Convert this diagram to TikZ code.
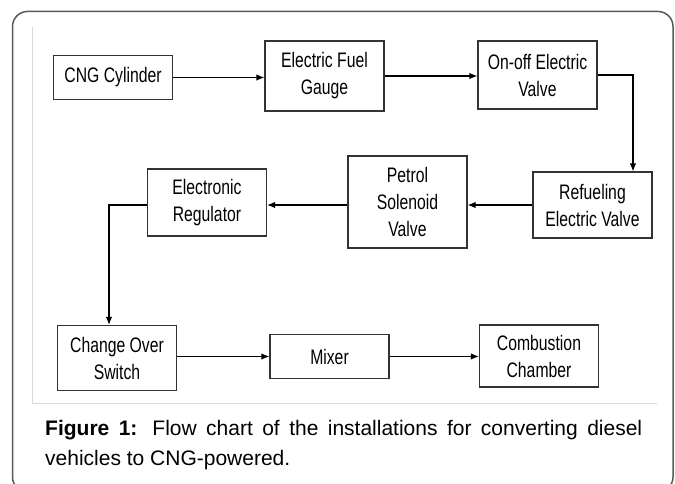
\documentclass[tikz,border=0pt]{standalone}
\usepackage{fontspec}
\setmainfont{Liberation Sans}
\newfontfamily\narrowfont[FakeStretch=0.75]{Liberation Sans}
\usetikzlibrary{arrows.meta}
\hyphenpenalty=10000

\begin{document}
\begin{tikzpicture}[x=1pt, y=-1pt,
    block/.style={draw=black!80, line width=1.2pt, minimum width=119pt, align=center,
      inner sep=0pt, font=\narrowfont\fontsize{21}{27}\selectfont},
    flow/.style={-{Latex[length=8pt,width=6.5pt]}, line width=1.2pt}]
    \useasboundingbox (0,0) rectangle (675,484);
    % frame and shadow
    \draw[black!65, line width=1.5pt, rounded corners=15pt] (12.5,11.5) rectangle (673,492);
    \draw[black!15, line width=1pt] (32,27) -- (32,403) -- (657,403);
    % blocks
    \node[block, minimum height=44pt] (cylinder) at (113,77.5) {CNG Cylinder};
    \node[block, minimum height=70pt] (gauge) at (324.5,76) {Electric Fuel\\Gauge};
    \node[block, minimum height=68pt] (onoff) at (537.5,75) {On-off Electric\\Valve};
    \node[block, minimum height=66pt] (refuel) at (592.5,205) {Refueling\\Electric Valve};
    \node[block, minimum height=92pt] (petrol) at (407.5,202) {Petrol\\Solenoid\\Valve};
    \node[block, minimum height=67pt] (regulator) at (207,202.5) {Electronic\\Regulator};
    \node[block, minimum height=65pt] (switch) at (117,358) {Change Over\\Switch};
    \node[block, minimum height=44pt] (mixer) at (329.5,356.5) {Mixer};
    \node[block, minimum height=62pt] (chamber) at (539,356) {Combustion\\Chamber};
    \coordinate (drop) at (633,0);
    \coordinate (rise) at (109,0);
    % connectors
    \draw[flow] (cylinder.east) -- (cylinder.east -| gauge.west);
    \draw[flow] (gauge.east) -- (gauge.east -| onoff.west);
    \draw[flow] (onoff.east) -| (drop |- refuel.north);
    \draw[flow] (refuel.west) -- (refuel.west -| petrol.east);
    \draw[flow] (refuel.west -| petrol.west) -- (refuel.west -| regulator.east);
    \draw[flow] (refuel.west -| regulator.west) -| (rise |- switch.north);
    \draw[flow] (mixer.west -| switch.east) -- (mixer.west);
    \draw[flow] (mixer.east) -- (mixer.east -| chamber.west);
    % caption
    \node[anchor=north west, text width=597pt, align=justify, inner sep=0pt,
      font=\fontsize{21}{30}\selectfont] (caption) at (45,420)
      {\textbf{Figure 1:} Flow chart of the installations for converting diesel vehicles to CNG-powered.};
\end{tikzpicture}
\end{document}
